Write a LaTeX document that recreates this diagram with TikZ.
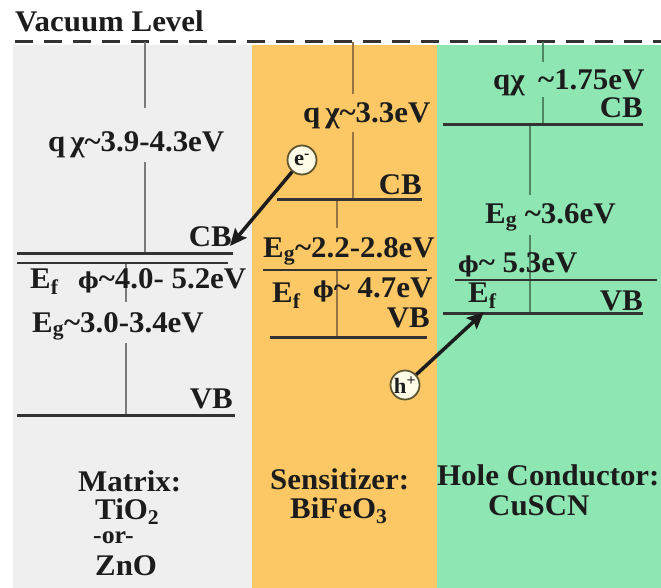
\documentclass[tikz,border=0pt]{standalone}
\usepackage{fontspec}
\setmainfont[FakeStretch=1.03]{Liberation Serif}
\newfontfamily\phifont{DejaVu Serif}
\usepackage{xcolor}
\usepackage{tikz}
\usetikzlibrary{arrows.meta}
\definecolor{matGray}{HTML}{EFEFEF}
\definecolor{sensOrange}{HTML}{FBC865}
\definecolor{holeGreen}{HTML}{8EE6B3}
\definecolor{ink}{HTML}{1C1C1C}
\definecolor{levelInk}{HTML}{333333}
\definecolor{stemGray}{HTML}{7A7A7A}
\definecolor{stemBrown}{HTML}{957445}
\definecolor{stemGreen}{HTML}{4E8762}
\definecolor{dotFill}{HTML}{FFFDE8}
\definecolor{dotEdge}{HTML}{5E5630}
\newcommand{\tl}{\textasciitilde}
\newcommand{\wf}{{\phifont\fontsize{22}{22}\selectfont ϕ}}

\begin{document}
\begin{tikzpicture}[x=1pt, y=-1pt, >=Stealth,
  txt/.style={font=\fontsize{30}{32}\selectfont\bfseries, text=ink, inner sep=0pt},
  band/.style={levelInk, line width=3pt},
  fermi/.style={levelInk, line width=1.5pt},
  stem/.style={line width=1.4pt},
  carrier/.style={circle, draw=dotEdge, fill=dotFill, line width=1.8pt, minimum size=29pt, inner sep=0pt,
    font=\fontsize{22}{22}\selectfont\bfseries, text=ink},
  hop/.style={-{Stealth[length=17pt, width=15pt, inset=3pt]}, line width=3.5pt, ink}]
\useasboundingbox (0,0) rectangle (661,588);
\fill[white] (0,0) rectangle (661,588);
\fill[matGray] (13,45) rectangle (252,588);
\fill[sensOrange] (252,45) rectangle (437,588);
\fill[holeGreen] (437,45) rectangle (661,588);
\node[txt, anchor=base west] (vac) at (15,32) {Vacuum Level};
\draw[levelInk, line width=3pt, dash pattern=on 18pt off 11pt] (15,42) -- (661,42);

\draw[stem, stemGray] (145,42) -- (145,108) (145,162) -- (145,253);
\draw[stem, stemGray] (126,263) -- (126,302) (126,343) -- (126,415);
\draw[band] (17,253) -- (233,253);
\draw[fermi] (17,263) -- (228,263);
\draw[band] (17,415) -- (235,415);
\node[txt, anchor=base west] (chiL) at (48,152) {q\,χ\tl3.9-4.3eV};
\node[txt, anchor=base east] (cbL) at (232,247) {CB};
\node[txt, anchor=base west] (efL) at (30,288) {E\textsubscript{f}};
\node[txt, anchor=base west] (phiL) at (78,288) {\wf\tl4.0- 5.2eV};
\node[txt, anchor=base west] (egL) at (32,332) {E\textsubscript{g}\tl3.0-3.4eV};
\node[txt, anchor=base east] (vbL) at (233,408) {VB};
\node[txt, anchor=base west] (matL) at (78,491) {Matrix:};
\node[txt, anchor=base west] (tioL) at (95,519) {TiO\textsubscript{2}};
\node[txt, anchor=base west, font=\fontsize{25}{26}\selectfont\bfseries] (orL) at (93,543) {-or-};
\node[txt, anchor=base west] (znoL) at (95,575) {ZnO};

\draw[stem, stemBrown] (353,42) -- (353,94) (353,132) -- (353,200);
\draw[stem, stemBrown] (337,200) -- (337,228) (337,270) -- (337,337);
\draw[band] (277,200) -- (422,200);
\draw[fermi] (263,270) -- (427,270);
\draw[band] (270,337) -- (427,337);
\node[txt, anchor=base west] (chiM) at (303,123) {q\,χ\tl3.3eV};
\node[txt, anchor=base east] (cbM) at (422,195) {CB};
\node[txt, anchor=base west] (egM) at (263,257) {E\textsubscript{g}\tl2.2-2.8eV};
\node[txt, anchor=base west] (efM) at (272,302) {E\textsubscript{f}};
\node[txt, anchor=base west] (phiM) at (313,297) {\wf\tl\ 4.7eV};
\node[txt, anchor=base east] (vbM) at (430,327) {VB};
\node[txt, anchor=base west] (sensM) at (270,489) {Sensitizer:};
\node[txt, anchor=base west] (bfoM) at (290,518) {BiFeO\textsubscript{3}};

\draw[stem, stemGreen] (543,42) -- (543,62) (543,97) -- (543,125);
\draw[stem, stemGreen] (530,125) -- (530,195) (530,235) -- (530,313);
\draw[band] (443,125) -- (643,125);
\draw[fermi] (455,280) -- (657,280);
\draw[band] (443,313) -- (643,313);
\node[txt, anchor=base west] (chiR) at (493,90) {qχ};
\node[txt, anchor=base west] (affR) at (538,90) {\tl1.75eV};
\node[txt, anchor=base east] (cbR) at (643,118) {CB};
\node[txt, anchor=base west] (egR) at (485,223) {E\textsubscript{g} \tl3.6eV};
\node[txt, anchor=base west] (phiR) at (458,272) {\wf\tl\ 5.3eV};
\node[txt, anchor=base west] (efR) at (468,302) {E\textsubscript{f}};
\node[txt, anchor=base east] (vbR) at (643,310) {VB};
\node[txt, anchor=base west] (holeR) at (437,485) {Hole Conductor:};
\node[txt, anchor=base west] (cuR) at (488,515) {CuSCN};

\node[carrier] (elec) at (302,160) {e\textsuperscript{-}};
\node[carrier] (hole) at (405,385) {h\textsuperscript{+}};
\coordinate (elecEnd) at (230,246);
\coordinate (holeEnd) at (484,312);
\draw[hop] (elec) -- (elecEnd);
\draw[hop] (hole) -- (holeEnd);
\end{tikzpicture}
\end{document}
